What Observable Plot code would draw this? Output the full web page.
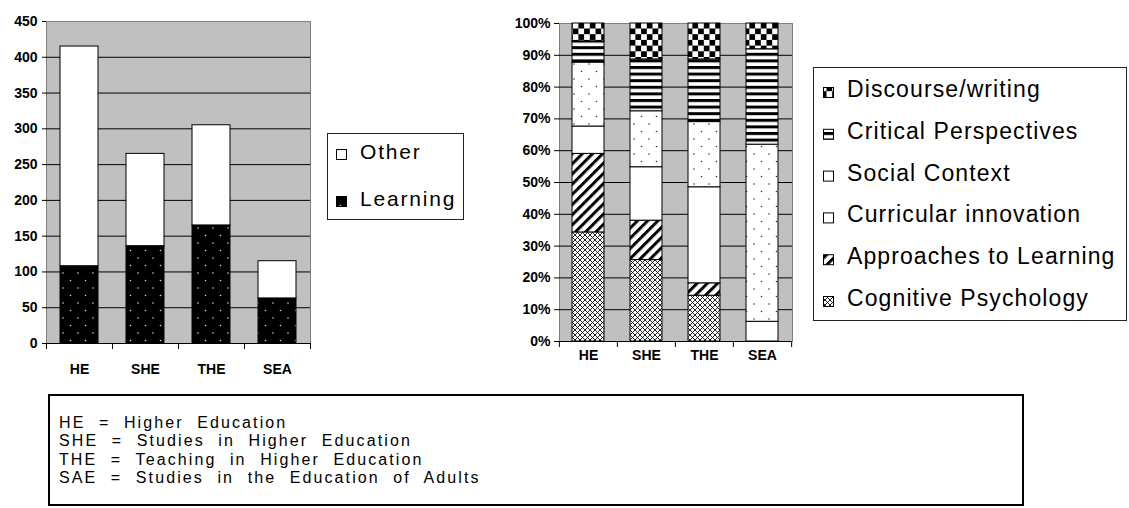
<!DOCTYPE html>
<html>
<head>
<meta charset="utf-8">
<script src="https://cdn.jsdelivr.net/npm/d3@7"></script>
<script src="https://cdn.jsdelivr.net/npm/@observablehq/plot@0.6"></script>
<style>
  html, body { margin: 0; padding: 0; background: white; }
  #wrap { position: relative; width: 1129px; height: 508px; overflow: hidden; font-family: "Liberation Sans", Arial, sans-serif; }
  .abs { position: absolute; }
  #caption {
    position: absolute; left: 48px; top: 394px; width: 976px; height: 112px;
    border: 2px solid #000; box-sizing: border-box;
    padding: 18px 0 0 9px;
    font-family: "Liberation Sans", Arial, sans-serif; font-size: 16px;
    letter-spacing: 2.1px; word-spacing: 7px; line-height: 18.4px; color: #000;
  }
  svg.plot-svg { background: transparent; }
</style>
</head>
<body>
<div id="wrap">
  <svg id="defs" width="0" height="0" style="position:absolute">
    <defs>
      <pattern id="pLearn" width="15" height="15" patternUnits="userSpaceOnUse">
        <rect width="15" height="15" fill="#000"/>
        <circle cx="3" cy="3" r="0.8" fill="#d8d8d8"/>
        <circle cx="10.5" cy="10.5" r="0.8" fill="#d8d8d8"/>
      </pattern>
      <pattern id="pSocial" width="15" height="15" patternUnits="userSpaceOnUse">
        <rect width="15" height="15" fill="#fff"/>
        <circle cx="4" cy="4" r="0.8" fill="#333"/>
        <circle cx="11.5" cy="11.5" r="0.8" fill="#333"/>
      </pattern>
      <pattern id="pCrit" width="6.6" height="6.6" patternUnits="userSpaceOnUse">
        <rect width="6.6" height="6.6" fill="#fff"/>
        <rect y="0" width="6.6" height="3" fill="#000"/>
      </pattern>
      <pattern id="pDisc" width="11.4" height="11.4" patternUnits="userSpaceOnUse">
        <rect width="11.4" height="11.4" fill="#fff"/>
        <rect x="0" y="0" width="5.7" height="5.7" fill="#000"/>
        <rect x="5.7" y="5.7" width="5.7" height="5.7" fill="#000"/>
      </pattern>
      <pattern id="pAppr" width="7.2" height="7.2" patternUnits="userSpaceOnUse" patternTransform="rotate(45)">
        <rect width="7.2" height="7.2" fill="#fff"/>
        <rect x="0" y="0" width="3" height="7.2" fill="#000"/>
      </pattern>
      <pattern id="pCog" width="5" height="5" patternUnits="userSpaceOnUse">
        <rect width="5" height="5" fill="#fff"/>
        <path d="M0,0L5,5M5,0L0,5" stroke="#000" stroke-width="0.85"/>
        <path d="M-1,4L1,6M4,-1L6,1M-1,1L1,-1M4,6L6,4" stroke="#000" stroke-width="0.85"/>
      </pattern>
    </defs>
  </svg>
  <div id="c1" class="abs" style="left:0;top:0"></div>
  <div id="c2" class="abs" style="left:510px;top:0"></div>
  <svg id="legends" class="abs" style="left:0;top:0" width="1129" height="390"></svg>
  <div id="caption"></div>
</div>
<script>
// ---------------- data ----------------
const cats = ["HE", "SHE", "THE", "SEA"];

// left chart (counts)
const seriesLeft = ["Learning", "Other"];
const learning = [108, 136, 165, 63];
const other = [307, 129, 140, 52];
const yTicksLeft = [0, 50, 100, 150, 200, 250, 300, 350, 400, 450];

// right chart (percent shares, stacked bottom to top)
const seriesRight = ["Cognitive Psychology", "Approaches to Learning", "Curricular innovation", "Social Context", "Critical Perspectives", "Discourse/writing"];
const cognitive  = [34.3, 25.6, 14.4, 0];
const approaches = [24.7, 12.4, 3.9, 0];
const curricular = [8.6, 16.8, 30.2, 6.2];
const social     = [20.1, 17.6, 20.5, 55.7];
const critical   = [6.7, 16.3, 19.7, 30.0];
const discourse  = [5.6, 11.3, 11.3, 8.1];
const yTicksRight = [0, 10, 20, 30, 40, 50, 60, 70, 80, 90, 100];

const captionLines = [
  "HE = Higher Education",
  "SHE = Studies in Higher Education",
  "THE = Teaching in Higher Education",
  "SAE = Studies in the Education of Adults"
];

// fills (patterns)
const fillLeft = ["url(#pLearn)", "white"];
const fillRight = ["url(#pCog)", "url(#pAppr)", "white", "url(#pSocial)", "url(#pCrit)", "url(#pDisc)"];

// ---------------- tables ----------------
const rowsLeft = [];
[learning, other].forEach((arr, s) => arr.forEach((v, i) => rowsLeft.push({cat: cats[i], series: seriesLeft[s], value: v})));
const rowsRight = [];
[cognitive, approaches, curricular, social, critical, discourse].forEach((arr, s) =>
  arr.forEach((v, i) => rowsRight.push({cat: cats[i], series: seriesRight[s], value: v})));

const baseStyle = {fontFamily: "'Liberation Sans', Arial, sans-serif", fontSize: "14px", fontWeight: "bold", color: "black", background: "transparent", overflow: "visible", maxWidth: "none"};

// ---------------- left chart ----------------
const W1 = 320, ML1 = 46, MR1 = 10;
const step1 = (W1 - ML1 - MR1) / cats.length;
const chart1 = Plot.plot({
  width: W1, height: 380, marginLeft: ML1, marginRight: MR1, marginTop: 21, marginBottom: 37,
  style: baseStyle,
  x: {domain: cats, paddingInner: 0.43, paddingOuter: 0.215, label: null},
  y: {domain: [0, 450], label: null},
  color: {domain: seriesLeft, range: fillLeft},
  marks: [
    Plot.frame({fill: "#c0c0c0", stroke: "#808080"}),
    Plot.gridY(yTicksLeft.slice(0, -1), {stroke: "#000", strokeOpacity: 1}),
    Plot.barY(rowsLeft, {x: "cat", y: "value", fill: "series", stroke: "#000", strokeWidth: 1}),
    Plot.axisY(yTicksLeft, {tickSize: 4, tickPadding: 5, stroke: "#000"}),
    Plot.axisX({tickSize: 0, tickPadding: 21}),
    Plot.ruleX(cats, {x: d => d, y1: 0, y2: 0, insetBottom: -6, dx: -step1 / 2, stroke: "#000"}),
    Plot.ruleX(cats.slice(-1), {x: d => d, y1: 0, y2: 0, insetBottom: -6, dx: step1 / 2, stroke: "#000"})
  ]
});
document.getElementById("c1").append(chart1);

// ---------------- right chart ----------------
const W2 = 290, ML2 = 49, MR2 = 8;
const step2 = (W2 - ML2 - MR2) / cats.length;
const chart2 = Plot.plot({
  width: W2, height: 380, marginLeft: ML2, marginRight: MR2, marginTop: 23, marginBottom: 39,
  style: baseStyle,
  x: {domain: cats, paddingInner: 0.44, paddingOuter: 0.22, label: null},
  y: {domain: [0, 100], label: null},
  color: {domain: seriesRight, range: fillRight},
  marks: [
    Plot.frame({fill: "#c0c0c0", stroke: "#808080"}),
    Plot.gridY(yTicksRight.slice(0, -1), {stroke: "#000", strokeOpacity: 1}),
    Plot.barY(rowsRight, {x: "cat", y: "value", fill: "series", stroke: "#000", strokeWidth: 1}),
    Plot.axisY(yTicksRight, {tickSize: 5, tickPadding: 4, stroke: "#000", tickFormat: d => d + "%"}),
    Plot.axisX({tickSize: 0, tickPadding: 9}),
    Plot.ruleX(cats, {x: d => d, y1: 0, y2: 0, insetBottom: -6, dx: -step2 / 2, stroke: "#000"}),
    Plot.ruleX(cats.slice(-1), {x: d => d, y1: 0, y2: 0, insetBottom: -6, dx: step2 / 2, stroke: "#000"})
  ]
});
document.getElementById("c2").append(chart2);

// ---------------- legends ----------------
const NS = "http://www.w3.org/2000/svg";
const lg = document.getElementById("legends");
function el(tag, attrs, parent) {
  const e = document.createElementNS(NS, tag);
  for (const k in attrs) e.setAttribute(k, attrs[k]);
  (parent || lg).appendChild(e);
  return e;
}
function legend(box, items, fills, opts) {
  el("rect", {x: box.x + 0.5, y: box.y + 0.5, width: box.w, height: box.h, fill: "white", stroke: "#222", "stroke-width": 1});
  items.forEach((name, i) => {
    const base = opts.y0 + i * opts.dy;
    el("rect", {x: opts.sx + 0.5, y: base - opts.ss + 0.5, width: opts.ss, height: opts.ss, fill: fills[i], stroke: "#000", "stroke-width": 1});
    const t = el("text", {x: opts.tx, y: base, "font-family": "'Liberation Sans', Arial, sans-serif", "font-size": opts.fs, "letter-spacing": opts.ls, fill: "#000"});
    t.textContent = name;
  });
}
// left legend: top item is "Other"
legend({x: 327, y: 133, w: 136, h: 86}, seriesLeft.slice().reverse(), fillLeft.slice().reverse(),
  {y0: 159, dy: 47, sx: 336, ss: 10, tx: 360, fs: 21, ls: 1.8});
// right legend: top item is "Discourse/writing"
legend({x: 813, y: 67, w: 313, h: 253}, seriesRight.slice().reverse(), fillRight.slice().reverse(),
  {y0: 97, dy: 41.8, sx: 823, ss: 10, tx: 847, fs: 23, ls: 1.1});

// ---------------- caption ----------------
document.getElementById("caption").innerHTML = captionLines.map(s => `<div>${s}</div>`).join("");
</script>
</body>
</html>
